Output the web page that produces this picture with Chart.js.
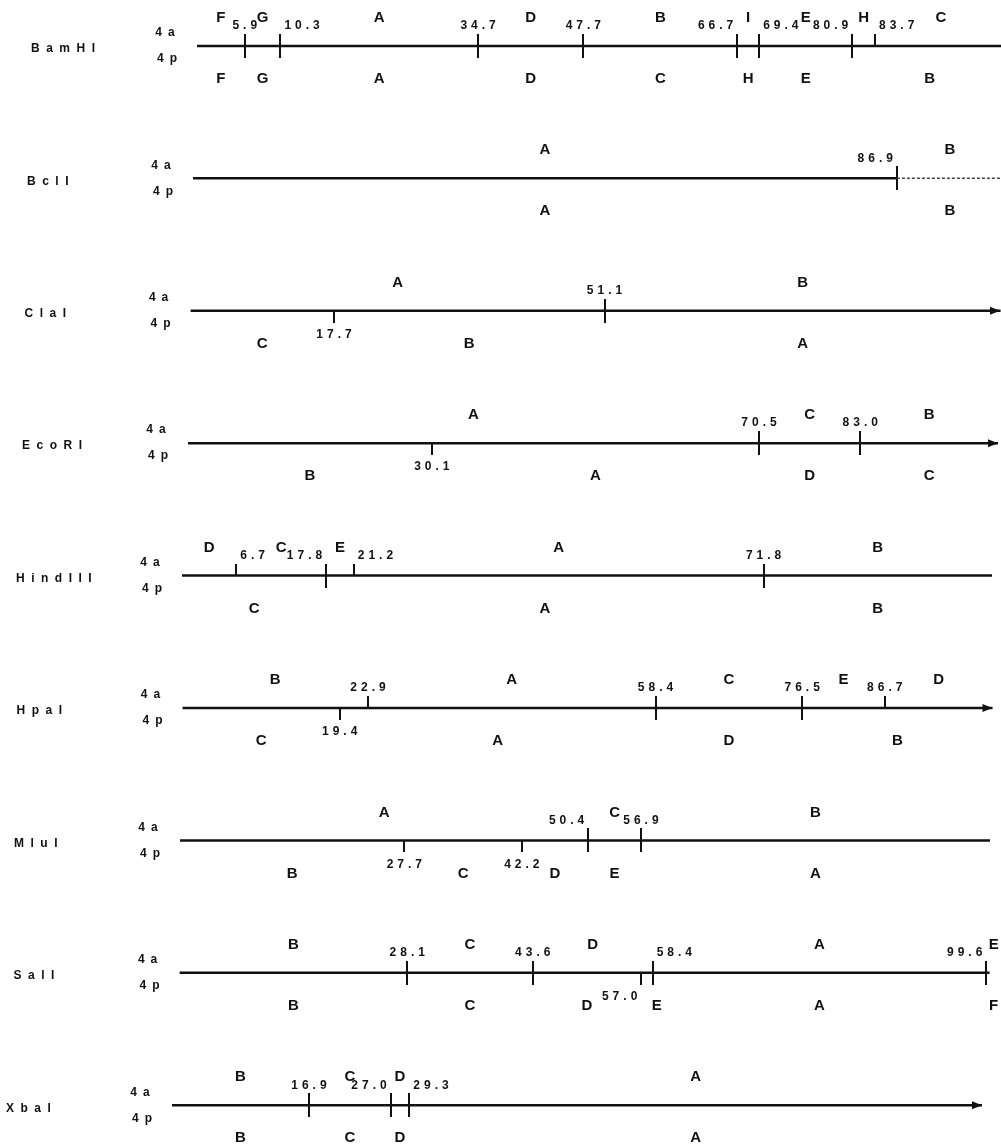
<!DOCTYPE html>
<html><head><meta charset="utf-8">
<script src="https://cdn.jsdelivr.net/npm/chart.js@4.4.1/dist/chart.umd.min.js"></script>
<style>html,body{margin:0;padding:0;background:#fff}#wrap{width:1001px;height:1144px;position:relative}</style>
</head><body><div id="wrap"><canvas id="c"></canvas></div>
<script>
// ================= DATA =================
const enzymes = ['BamHI','BclI','ClaI','EcoRI','HindIII','HpaI','MluI','SalI','XbaI'];
const mapLength = 100;
// cleavage sites (map units) in isolate 4a and 4p
const sites4a = [
  [5.9, 10.3, 34.7, 47.7, 66.7, 69.4, 80.9, 83.7],
  [86.9],
  [51.1],
  [70.5, 83.0],
  [6.7, 17.8, 21.2, 71.8],
  [22.9, 58.4, 76.5, 86.7],
  [50.4, 56.9],
  [28.1, 43.6, 58.4, 99.6],
  [16.9, 27.0, 29.3]
];
const sites4p = [
  [5.9, 10.3, 34.7, 47.7, 66.7, 69.4, 80.9],
  [86.9],
  [17.7, 51.1],
  [30.1, 70.5, 83.0],
  [17.8, 71.8],
  [19.4, 58.4, 76.5],
  [27.7, 42.2, 50.4, 56.9],
  [28.1, 43.6, 57.0, 58.4, 99.6],
  [16.9, 27.0, 29.3]
];
// fragment names, left to right
const fragments4a = [
  ['F','G','A','D','B','I','E','H','C'],
  ['A','B'],
  ['A','B'],
  ['A','C','B'],
  ['D','C','E','A','B'],
  ['B','A','C','E','D'],
  ['A','C','B'],
  ['B','C','D','A','E'],
  ['B','C','D','A']
];
const fragments4p = [
  ['F','G','A','D','C','H','E','B'],
  ['A','B'],
  ['C','B','A'],
  ['B','A','D','C'],
  ['C','A','B'],
  ['C','A','D','B'],
  ['B','C','D','E','A'],
  ['B','C','D','E','A','F'],
  ['B','C','D','A']
];

// ================= LAYOUT / STYLE =================
const W = 1001, H = 1144;
const rowOriginPx = [197, 193, 190.6, 188, 182, 182.5, 180, 179.6, 172]; // scan skew of each row
const pxPerUnit = 8.1;
const numberAlign = { BamHI:'clccrlrl', BclI:'r', ClaI:'cc', EcoRI:'ccc', HindIII:'lrlc', HpaI:'ccccc', MluI:'ccrc', SalI:'ccrlr', XbaI:'crl' };
const dashedAfterLastSite = ['BclI'];
const arrowRows = ['ClaI','EcoRI','HpaI','XbaI'];
const FAM = '"Liberation Sans", Arial, sans-serif';
const FONT_FRAG = 'bold 15px ' + FAM;
const FONT_NUM = 'bold 12px ' + FAM;
const FONT_NAME = 'bold 12px ' + FAM;
const FONT_SIDE = 'bold 12px ' + FAM;
const NUM_SP = 4;
const INK = '#111';

function tickImage(kind){
  const c = document.createElement('canvas'); c.width = 2; c.height = 24;
  const g = c.getContext('2d'); g.fillStyle = INK;
  if (kind === 'both') g.fillRect(0,0,2,24);
  else if (kind === 'up') g.fillRect(0,0,2,12);
  else g.fillRect(0,12,2,12);
  return c;
}
const tickImgs = { both: tickImage('both'), up: tickImage('up'), down: tickImage('down') };

const scales = { y: { type:'linear', display:false, reverse:true, min:-0.347, max:8.293 } };
enzymes.forEach((e,i) => {
  scales['x'+i] = { type:'linear', display:false, min:-rowOriginPx[i]/pxPerUnit, max:(W-rowOriginPx[i])/pxPerUnit };
});

const datasets = [];
enzymes.forEach((name,i) => {
  const dashed = dashedAfterLastSite.includes(name);
  const all = [...new Set([...sites4a[i], ...sites4p[i]])].sort((a,b)=>a-b);
  const linePts = [{x:0,y:i}];
  if (dashed) linePts.push({x: all[all.length-1], y:i});
  linePts.push({x:mapLength, y:i});
  datasets.push({
    type:'line', label: name + ' map', data: linePts, xAxisID:'x'+i, yAxisID:'y',
    borderColor: INK, borderWidth: 2.5, pointRadius: 0, tension: 0,
    segment: dashed ? {
      borderDash: c => c.p0DataIndex === linePts.length-2 ? [3,2] : undefined,
      borderWidth: c => c.p0DataIndex === linePts.length-2 ? 1.5 : undefined,
      borderColor: c => c.p0DataIndex === linePts.length-2 ? '#444' : undefined
    } : undefined
  });
  datasets.push({
    type:'scatter', label: name + ' sites',
    data: all.map(s => ({x:s, y:i, kind: sites4a[i].includes(s) && sites4p[i].includes(s) ? 'both' : (sites4a[i].includes(s) ? 'up' : 'down')})),
    xAxisID:'x'+i, yAxisID:'y',
    pointStyle: c => tickImgs[c.raw ? c.raw.kind : 'both'],
    pointRadius: 6
  });
});

function spaced(ctx, text, x, y, sp, align){
  const chars = [...text];
  const widths = chars.map(c => ctx.measureText(c).width);
  const total = widths.reduce((a,b)=>a+b,0) + sp*(chars.length-1);
  let sx = align === 'center' ? x - total/2 : (align === 'right' ? x - total : x);
  ctx.textAlign = 'left'; ctx.textBaseline = 'middle';
  chars.forEach((c,k) => { ctx.fillText(c, sx, y); sx += widths[k] + sp; });
}

const labelPlugin = {
  id: 'mapLabels',
  afterDatasetsDraw(chart){
    const ctx = chart.ctx, ys = chart.scales.y;
    ctx.save();
    ctx.fillStyle = INK; ctx.strokeStyle = INK;
    enzymes.forEach((name,i) => {
      const xs = chart.scales['x'+i];
      const y = ys.getPixelForValue(i);
      const x0 = xs.getPixelForValue(0);
      ctx.font = FONT_NAME; spaced(ctx, name, x0-166, y+3, 6.5, 'left');
      ctx.font = FONT_SIDE;
      spaced(ctx, '4a', x0-32, y-13, 6, 'center');
      spaced(ctx, '4p', x0-30, y+13, 6, 'center');
      // fragment letters at fragment centres
      ctx.font = FONT_FRAG;
      const frag = (names, sites, ty) => {
        const b = [0, ...sites, mapLength];
        names.forEach((f,k) => {
          const a0 = b[k], a1 = b[k+1];
          const mid = (a1 - a0) < 1.5 ? a1 + 0.5 : (a0 + a1)/2;
          spaced(ctx, f, xs.getPixelForValue(mid), ty, 0, 'center');
        });
      };
      frag(fragments4a[i], sites4a[i], y-28);
      frag(fragments4p[i], sites4p[i], y+33);
      // site numbers
      ctx.font = FONT_NUM;
      const all = [...new Set([...sites4a[i], ...sites4p[i]])].sort((a,b)=>a-b);
      const al = numberAlign[name] || '';
      all.forEach((s,k) => {
        const above = sites4a[i].includes(s);
        const px = xs.getPixelForValue(s);
        const ty = above ? y-20 : y+24;
        const a = al[k] || 'c';
        if (a === 'l') spaced(ctx, s.toFixed(1), px+4, ty, NUM_SP, 'left');
        else if (a === 'r') spaced(ctx, s.toFixed(1), px-4, ty, NUM_SP, 'right');
        else spaced(ctx, s.toFixed(1), px, ty, NUM_SP, 'center');
      });
      // arrow heads (tip at the map end)
      if (arrowRows.includes(name)) {
        const xe = Math.min(xs.getPixelForValue(mapLength), W - 1);
        ctx.beginPath();
        ctx.moveTo(xe, y); ctx.lineTo(xe-10, y-4); ctx.lineTo(xe-10, y+4); ctx.closePath(); ctx.fill();
      }
    });
    ctx.restore();
  }
};

new Chart(document.getElementById('c'), {
  type: 'scatter',
  data: { datasets },
  options: {
    responsive: true, maintainAspectRatio: false, animation: false, devicePixelRatio: 1,
    events: [],
    layout: { padding: 0, autoPadding: false },
    plugins: { legend: { display:false }, tooltip: { enabled:false }, title: { display:false } },
    scales
  },
  plugins: [labelPlugin]
});
</script>
</body></html>
